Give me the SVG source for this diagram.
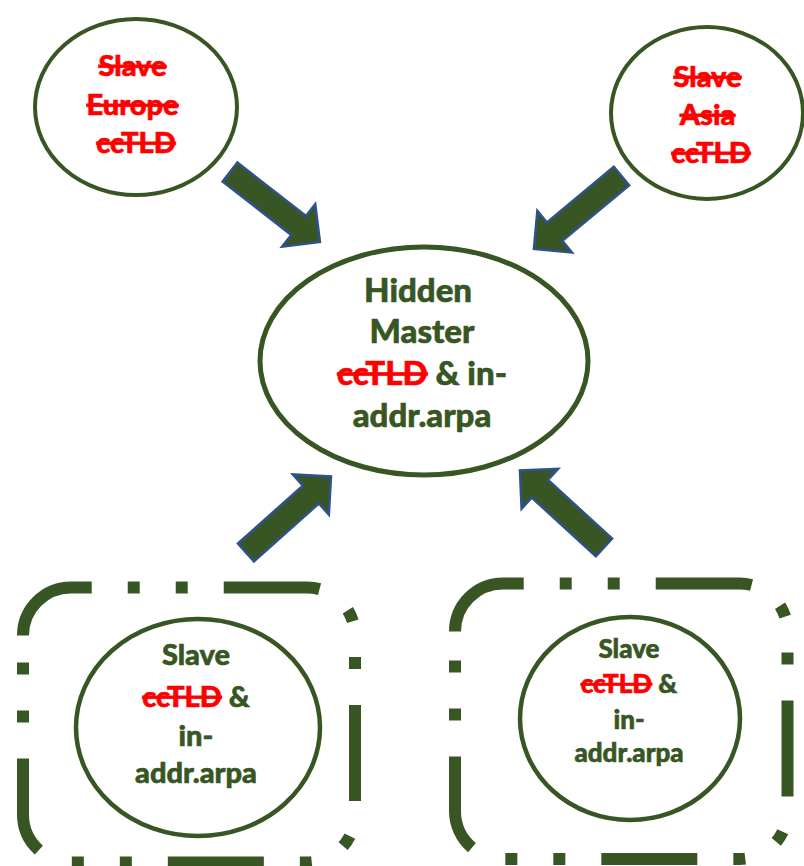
<svg xmlns="http://www.w3.org/2000/svg" xmlns:xlink="http://www.w3.org/1999/xlink" width="804" height="866" viewBox="0 0 804 866">
  <style>
    .node { fill: #ffffff; stroke: #375623; }
    .lbl { font-family: Lato, "Open Sans", "Liberation Sans", sans-serif; font-weight: 900; fill: #375623; stroke: #375623; stroke-width: 0.6; text-anchor: middle; }
    .del { fill: #ff0000; stroke: #ff0000; text-decoration: line-through; }
    .frame { fill: none; stroke: #375623; stroke-width: 12; stroke-dasharray: 96 36 12 36 12 36; stroke-linecap: butt; }
    .blk { fill: #375623; stroke: #2F528F; stroke-width: 2.5; stroke-linejoin: miter; }
  </style>
  <defs>
    <path id="blockArrow" class="blk" d="M0,-12 H87 V-27 L114,0 L87,27 V12 H0 Z"/>
  </defs>
  <rect width="804" height="866" fill="#ffffff"/>

  <g id="connectors">
    <use xlink:href="#blockArrow" href="#blockArrow" transform="translate(230,172) rotate(37.9)"/>
    <use xlink:href="#blockArrow" href="#blockArrow" transform="translate(621.5,176) rotate(140.2)"/>
    <use xlink:href="#blockArrow" href="#blockArrow" transform="translate(246,552.5) rotate(-41.8)"/>
    <use xlink:href="#blockArrow" href="#blockArrow" transform="translate(604,547.5) rotate(-137.5)"/>
  </g>

  <g id="slave-europe">
    <ellipse class="node" cx="136" cy="107" rx="101" ry="88" stroke-width="4"/>
    <text class="lbl" font-size="29">
      <tspan class="del" x="136" y="76">Slave</tspan>
      <tspan class="del" x="136" y="115">Europe</tspan>
      <tspan class="del" x="136" y="153">ccTLD</tspan>
    </text>
  </g>

  <g id="slave-asia">
    <ellipse class="node" cx="707" cy="113" rx="96" ry="86" stroke-width="4"/>
    <text class="lbl" font-size="29">
      <tspan class="del" x="711" y="87">Slave</tspan>
      <tspan class="del" x="711" y="125">Asia</tspan>
      <tspan class="del" x="711" y="163">ccTLD</tspan>
    </text>
  </g>

  <g id="hidden-master">
    <ellipse class="node" cx="424" cy="361" rx="164" ry="114" stroke-width="5"/>
    <text class="lbl" font-size="33">
      <tspan x="422" y="302">Hidden</tspan>
      <tspan x="422" y="343">Master</tspan>
    </text>
    <text class="lbl" font-size="33" x="422" y="385"><tspan class="del">ccTLD</tspan> &amp; in-</text>
    <text class="lbl" font-size="33" x="422" y="427">addr.arpa</text>
  </g>

  <g id="slave-left">
    <path class="frame" d="M23,635.5 A48,48 0 0 1 71,587.5 H307 A48,48 0 0 1 355,635.5 V814.5 A48,48 0 0 1 307,862.5 H71 A48,48 0 0 1 23,814.5 Z"/>
    <ellipse class="node" cx="198" cy="727.5" rx="122" ry="108.5" stroke-width="4.5"/>
    <text class="lbl" font-size="29" x="196" y="665">Slave</text>
    <text class="lbl" font-size="29" x="196" y="707"><tspan class="del">ccTLD</tspan> &amp;</text>
    <text class="lbl" font-size="29" x="196" y="746">in-</text>
    <text class="lbl" font-size="29" x="196" y="783">addr.arpa</text>
  </g>

  <g id="slave-right">
    <path class="frame" d="M455,631.5 A48,48 0 0 1 503,583.5 H739.5 A48,48 0 0 1 787.5,631.5 V811 A48,48 0 0 1 739.5,859 H503 A48,48 0 0 1 455,811 Z"/>
    <ellipse class="node" cx="630" cy="718.5" rx="110" ry="101.5" stroke-width="4.5"/>
    <text class="lbl" font-size="26" x="629" y="658">Slave</text>
    <text class="lbl" font-size="26" x="629" y="693"><tspan class="del">ccTLD</tspan> &amp;</text>
    <text class="lbl" font-size="26" x="629" y="729">in-</text>
    <text class="lbl" font-size="26" x="629" y="762">addr.arpa</text>
  </g>
</svg>
